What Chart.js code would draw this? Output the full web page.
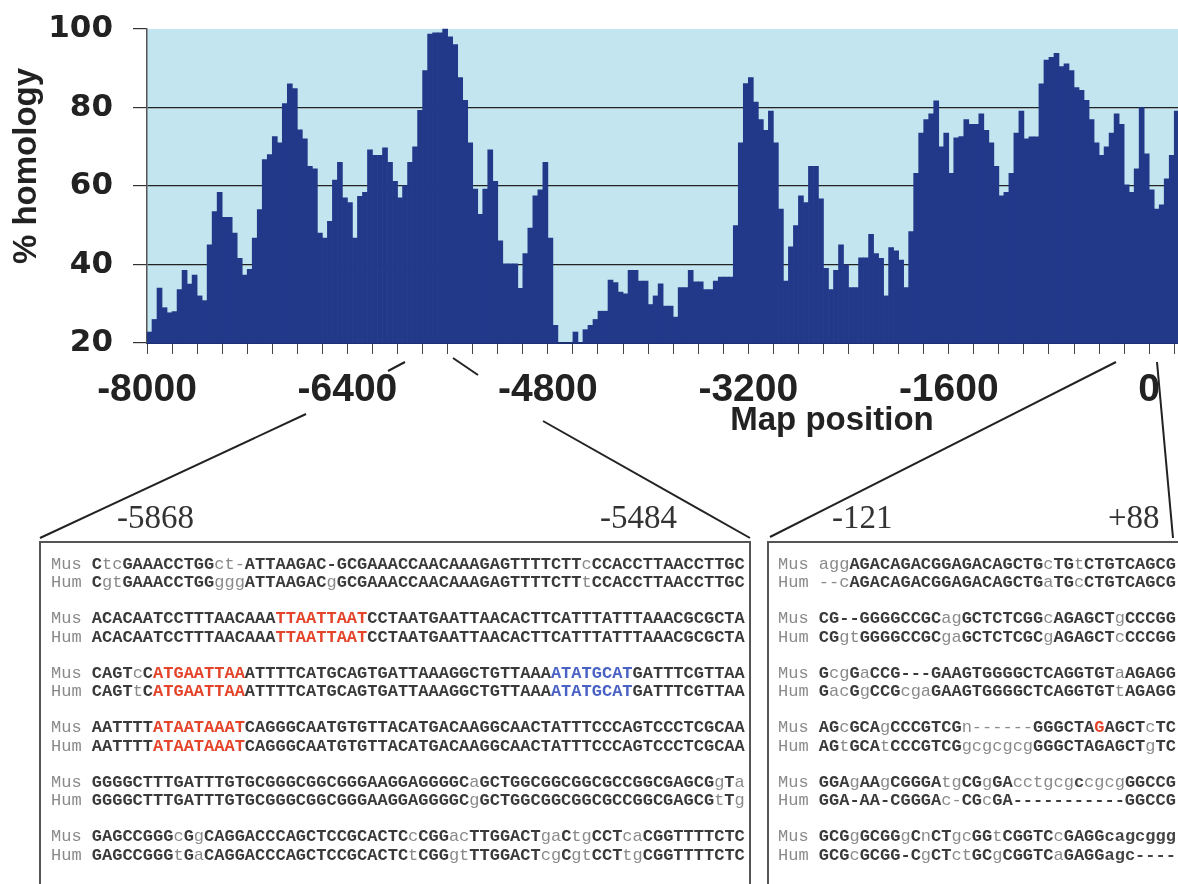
<!DOCTYPE html>
<html>
<head>
<meta charset="utf-8">
<script src="https://cdn.jsdelivr.net/npm/chart.js@4.4.1/dist/chart.umd.min.js"></script>
<style>
  html, body { margin: 0; padding: 0; background: #fff; }
  body { width: 1178px; height: 884px; overflow: hidden; position: relative; font-family: "Liberation Sans", Arial, sans-serif; }
  #chartBox { position: absolute; left: 0; top: 0; width: 1178px; height: 450px; }
  .axisTitle { position: absolute; font-weight: bold; color: #222; white-space: nowrap; text-align: center; }
  #yTitle { left: -95px; top: 149px; width: 240px; height: 34px; line-height: 34px; font-size: 33px; transform: rotate(-90deg); }
  #xTitle { left: 682px; top: 402px; width: 300px; line-height: 33px; font-size: 33px; }
  .range { position: absolute; top: 499px; font-family: "Liberation Serif", "Times New Roman", serif; font-size: 33px; line-height: 36px; color: #333; }
  .panel { position: absolute; top: 541px; height: 400px; border: 2px solid #555; box-sizing: border-box; }
  .seq { position: absolute; font-family: "Liberation Mono", "Courier New", monospace; font-size: 17px; line-height: 18.5px; white-space: pre; color: #8a8a8a; }
  .seq .up { color: #3a3a3a; font-weight: bold; }
  .seq .dark { color: #444; font-weight: bold; }
  .seq .red { color: #e4442a; font-weight: bold; }
  .seq .blue { color: #4a62c4; font-weight: bold; }
  svg { position: absolute; left: 0; top: 0; }
</style>
</head>
<body>
<div id="chartBox"><canvas id="homologyChart" width="1178" height="450"></canvas></div>
<div class="axisTitle" id="yTitle">% homology</div>
<div class="axisTitle" id="xTitle">Map position</div>

<svg width="1178" height="884">
  <g stroke="#222" stroke-width="2" fill="none">
    <line x1="405" y1="362" x2="388" y2="371"/>
    <line x1="306" y1="414" x2="40" y2="538"/>
    <line x1="453" y1="358" x2="478" y2="375"/>
    <line x1="543" y1="421" x2="750" y2="538"/>
    <line x1="1116" y1="362" x2="770" y2="537"/>
    <line x1="1157" y1="362" x2="1173" y2="538"/>
  </g>
</svg>

<div class="range" style="left:117px">-5868</div>
<div class="range" style="left:600px">-5484</div>
<div class="range" style="left:832px">-121</div>
<div class="range" style="left:1108px">+88</div>

<div class="panel" style="left:39px; width:712px"></div>
<div class="panel" style="left:767px; width:430px"></div>
<div id="seqLayer"></div>

<script>
// % homology per 40 bp window (window 0 starts at -8000)
const binStart = -8000;
const binWidth = 40;
const homology = [
  22.8, 26, 34, 29, 27.7, 28, 33.6, 38.5, 35, 37.3,
  32, 30.8, 45, 53.5, 58.4, 52, 52, 48, 41.6, 37.3,
  38.8, 46.7, 54, 66.7, 68, 72.6, 71, 81, 86, 84.8,
  74.3, 72, 65, 64.4, 48, 46.7, 51, 61.5, 66, 57,
  55.8, 46.7, 57.4, 58.4, 69.2, 67.8, 67.8, 69.7, 66, 61.2,
  57, 60.1, 66, 70, 79.3, 89.4, 98.7, 99, 99, 100,
  98, 96, 87.6, 81.8, 71, 59.2, 52.8, 59.2, 69.2, 61.2,
  46, 40.2, 40.2, 40.2, 33.9, 42.8, 49.3, 57.5, 59, 66,
  46.7, 24.5, 19, 19, 19, 22.8, 20, 23.4, 24.5, 26,
  28.1, 28.1, 36, 35.4, 33, 32.5, 38.5, 38.5, 35.8, 35.8,
  29.8, 32, 35.1, 29.4, 29.4, 26.6, 34.1, 34.1, 38.5, 35.6,
  35.6, 33.6, 33.6, 35.8, 36.8, 36.8, 36.8, 49.9, 71, 86.1,
  87.6, 81.4, 76.9, 74.2, 79.1, 71, 54.1, 35.8, 44.5, 49.9,
  57.5, 55.8, 65, 65, 56.7, 39, 33.6, 38.5, 45, 39.9,
  34.1, 34.1, 41.7, 41.7, 47.7, 42.8, 41.6, 32, 44.3, 43.5,
  41.1, 34.1, 48.4, 63.2, 73.5, 76.9, 78.4, 81.7, 70, 73.5,
  63.2, 72.3, 72.6, 76.9, 75.7, 75.7, 78.4, 74.2, 71, 65,
  57.5, 58.4, 63.2, 73.5, 79.1, 72, 72.5, 72.5, 86, 92.1,
  92.8, 93.8, 90.4, 91.1, 89.4, 85.1, 84.4, 81.8, 76.9, 71,
  67.8, 70, 73.5, 78.4, 75.7, 60.3, 58.4, 64.4, 80, 68.2,
  59, 54.1, 55.2, 61.8, 67.8, 79.1
];
const yTicks = [20, 40, 60, 80, 100];
const xLabelTicks = [-8000, -6400, -4800, -3200, -1600, 0];
const xMinorStep = 200;
const xMin = -8000;
const xMax = 230;

// Alignment panels (Mus = mouse, Hum = human)
const leftMus = [
  'CtcGAAACCTGGct-ATTAAGAC-GCGAAACCAACAAAGAGTTTTCTTcCCACCTTAACCTTGC',
  'ACACAATCCTTTAACAAATTAATTAATCCTAATGAATTAACACTTCATTTATTTAAACGCGCTA',
  'CAGTcCATGAATTAAATTTTCATGCAGTGATTAAAGGCTGTTAAAATATGCATGATTTCGTTAA',
  'AATTTTATAATAAATCAGGGCAATGTGTTACATGACAAGGCAACTATTTCCCAGTCCCTCGCAA',
  'GGGGCTTTGATTTGTGCGGGCGGCGGGAAGGAGGGGCaGCTGGCGGCGGCGCCGGCGAGCGgTa',
  'GAGCCGGGcGgCAGGACCCAGCTCCGCACTCcCGGacTTGGACTgaCtgCCTcaCGGTTTTCTC'
];
const leftHum = [
  'CgtGAAACCTGGgggATTAAGACgGCGAAACCAACAAAGAGTTTTCTTtCCACCTTAACCTTGC',
  'ACACAATCCTTTAACAAATTAATTAATCCTAATGAATTAACACTTCATTTATTTAAACGCGCTA',
  'CAGTtCATGAATTAAATTTTCATGCAGTGATTAAAGGCTGTTAAAATATGCATGATTTCGTTAA',
  'AATTTTATAATAAATCAGGGCAATGTGTTACATGACAAGGCAACTATTTCCCAGTCCCTCGCAA',
  'GGGGCTTTGATTTGTGCGGGCGGCGGGAAGGAGGGGCgGCTGGCGGCGGCGCCGGCGAGCGtTg',
  'GAGCCGGGtGaCAGGACCCAGCTCCGCACTCtCGGgtTTGGACTcgCgtCCTtgCGGTTTTCTC'
];
const leftMarks = [
  [],
  [[18, 26, 'red']],
  [[6, 14, 'red'], [45, 52, 'blue']],
  [[6, 14, 'red']],
  [],
  []
];
const rightMus = [
  'aggAGACAGACGGAGACAGCTGcTGtCTGTCAGCG',
  'CG--GGGGCCGCagGCTCTCGGcAGAGCTgCCCGG',
  'GcgGaCCG---GAAGTGGGGCTCAGGTGTaAGAGG',
  'AGcGCAgCCCGTCGn------GGGCTAGAGCTcTC',
  'GGAgAAgCGGGAtgCGgGAcctgcgccgcgGGCCG',
  'GCGgGCGGgCnCTgcGGtCGGTCcGAGGcagcggg'
];
const rightHum = [
  '--cAGACAGACGGAGACAGCTGaTGcCTGTCAGCG',
  'CGgtGGGGCCGCgaGCTCTCGCgAGAGCTcCCCGG',
  'GacGgCCGcgaGAAGTGGGGCTCAGGTGTtAGAGG',
  'AGtGCAtCCCGTCGgcgcgcgGGGCTAGAGCTgTC',
  'GGA-AA-CGGGAc-CGcGA-----------GGCCG',
  'GCGcGCGG-CgCTctGCgCGGTCaGAGGagc----'
];
const rightMusMarks = [[], [], [], [[27, 27, 'red']], [[25, 25, 'dark']], [[28, 34, 'dark']]];
const rightHumMarks = [[], [], [], [], [], [[28, 30, 'dark']]];

const plotBackground = {
  id: 'plotBackground',
  beforeDraw(chart) {
    const { ctx, chartArea } = chart;
    ctx.save();
    ctx.fillStyle = '#c3e5ef';
    ctx.fillRect(chartArea.left, chartArea.top, chartArea.right - chartArea.left, chartArea.bottom - chartArea.top);
    ctx.restore();
  }
};

const points = homology.map((v, i) => ({ x: binStart + binWidth * i + binWidth / 2, y: v }));

new Chart(document.getElementById('homologyChart'), {
  type: 'bar',
  data: {
    datasets: [{
      data: points,
      backgroundColor: '#22398a',
      borderWidth: 0,
      barPercentage: 1,
      categoryPercentage: 1,
      clip: { left: 0, right: 0, top: 3, bottom: 0 }
    }]
  },
  options: {
    responsive: false,
    animation: false,
    layout: { padding: { top: 29, left: 0, right: 0, bottom: 0 } },
    plugins: { legend: { display: false }, tooltip: { enabled: false } },
    scales: {
      x: {
        type: 'linear',
        min: xMin,
        max: xMax,
        offset: false,
        afterBuildTicks: scale => {
          const ticks = [];
          for (let v = xMin; v <= xMax; v += xMinorStep) ticks.push({ value: v });
          scale.ticks = ticks;
        },
        afterFit: scale => {
          scale.height = 107;
          scale.paddingLeft = 0;
          scale.paddingRight = 0;
        },
        ticks: {
          autoSkip: false,
          maxRotation: 0,
          minRotation: 0,
          padding: 13,
          color: '#222',
          font: { family: 'Liberation Sans', size: 39, weight: 'bold' },
          callback: v => (xLabelTicks.includes(v) ? String(v) : '')
        },
        grid: { drawOnChartArea: false, offset: false, tickLength: 11, tickColor: '#444', tickWidth: 1 },
        border: { color: '#1d2f73', width: 2 }
      },
      y: {
        min: 20,
        max: 100,
        beginAtZero: false,
        afterBuildTicks: scale => { scale.ticks = yTicks.map(v => ({ value: v })); },
        afterFit: scale => {
          scale.width = 147;
          scale.paddingTop = 0;
          scale.paddingBottom = 0;
        },
        ticks: {
          padding: 20,
          color: '#222',
          font: { family: 'DejaVu Sans', size: 31, weight: 'bold' }
        },
        grid: {
          color: c => (c.tick && (c.tick.value === 20 || c.tick.value === 100)) ? 'rgba(0,0,0,0)' : '#222',
          lineWidth: 1.2,
          tickLength: 14,
          tickColor: '#333'
        },
        border: { color: '#555', width: 1.5 }
      }
    }
  },
  plugins: [plotBackground]
});

// Sequence text
function styleOf(ch, i, marks, prev) {
  for (const m of marks) if (i >= m[0] && i <= m[1]) return m[2];
  if (ch === '-') return prev || 'low';
  if (ch >= 'A' && ch <= 'Z') return 'up';
  return 'low';
}

function buildLine(label, seq, marks) {
  const line = document.createElement('div');
  line.appendChild(document.createTextNode(label + ' '));
  let prev = null, run = '', runStyle = null;
  const flush = () => {
    if (!run) return;
    if (runStyle === 'low') {
      line.appendChild(document.createTextNode(run));
    } else {
      const s = document.createElement('span');
      s.className = runStyle;
      s.textContent = run;
      line.appendChild(s);
    }
    run = '';
  };
  for (let i = 0; i < seq.length; i++) {
    const st = styleOf(seq[i], i, marks, prev);
    if (st !== runStyle) { flush(); runStyle = st; }
    run += seq[i];
    prev = st;
  }
  flush();
  return line;
}

function buildPanel(left, musRows, humRows, musMarks, humMarks) {
  const layer = document.getElementById('seqLayer');
  musRows.forEach((mus, k) => {
    const block = document.createElement('div');
    block.className = 'seq';
    block.style.left = left + 'px';
    block.style.top = (565 + 54.5 * k - 9.25) + 'px';
    block.appendChild(buildLine('Mus', mus, musMarks[k]));
    block.appendChild(buildLine('Hum', humRows[k], humMarks[k]));
    layer.appendChild(block);
  });
}

buildPanel(51, leftMus, leftHum, leftMarks, leftMarks);
buildPanel(778, rightMus, rightHum, rightMusMarks, rightHumMarks);
</script>
</body>
</html>
